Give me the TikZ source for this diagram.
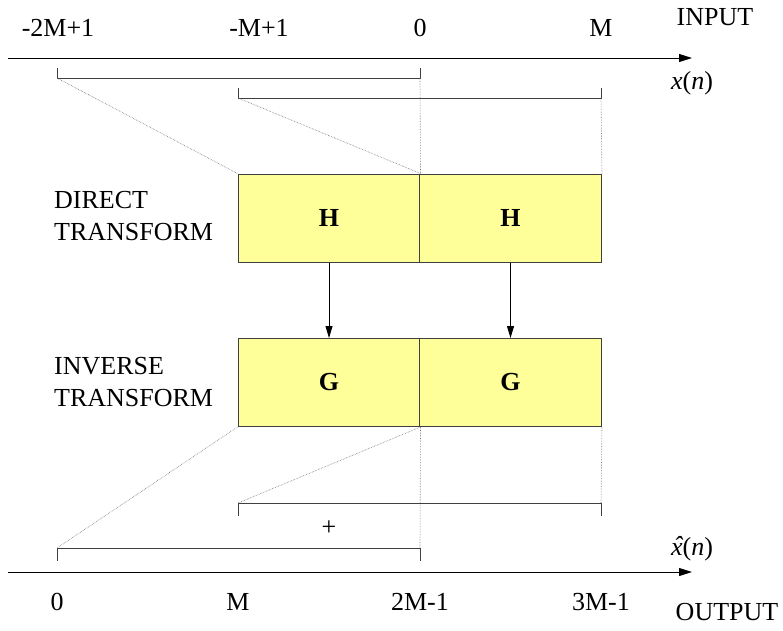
\documentclass[tikz,border=0pt]{standalone}
\usepackage{fontspec}
\setmainfont{Liberation Serif}
\usetikzlibrary{arrows.meta}
\definecolor{boxfill}{HTML}{FFFF99}
% italic x with a circumflex set over it
\newcommand{\hatx}{\textit{\setbox0\hbox{x}\rlap{x}\hbox to\wd0{\hss\kern0.08em\raisebox{0.02em}{\char"02C6}\hss}}}
\begin{document}
\begin{tikzpicture}[x=1pt,y=-1pt,
  lbl/.style={font=\fontsize{26}{32}\selectfont, inner sep=0pt},
  blk/.style={draw=black!75, fill=boxfill, line width=1pt,
    minimum width=182pt, minimum height=88pt, inner sep=0pt,
    font=\fontsize{26}{32}\selectfont\bfseries},
  axis/.style={line width=0.9pt, -{Triangle[length=13pt,width=8pt]}},
  brk/.style={line width=0.9pt, draw=black!75},
  guide/.style={densely dotted, draw=black!55, line width=0.6pt},
  flow/.style={line width=0.9pt, -{Triangle[length=12pt,width=7pt]}}
]
\useasboundingbox (0,0) rectangle (783,630);

% input axis and its labels
\coordinate (inL) at (8,58);
\coordinate (inR) at (692,58);
\draw[axis] (inL) -- (inR);
\node[lbl] (t1) at (58,28) {-2M+1};
\node[lbl] (t2) at (259,28) {-M+1};
\node[lbl] (t3) at (420,28) {0};
\node[lbl] (t4) at (601,28) {M};
\node[lbl] (tin) at (715,17) {INPUT};
\node[lbl, anchor=base] (xn) at (692,89) {\textit{x}(\textit{n})};

% input blocks
\coordinate (b1l) at (57,78);
\coordinate (b1r) at (420,78);
\coordinate (b2l) at (238,98);
\coordinate (b2r) at (601,98);
\draw[brk] (b1l) ++(0,-10) -- (b1l) -- (b1r) -- ++(0,-10);
\draw[brk] (b2l) ++(0,-10) -- (b2l) -- (b2r) -- ++(0,-10);

% transform blocks
\node[blk] (h1) at (329,218) {H};
\node[blk] (h2) at (510.5,218) {H};
\node[blk] (g1) at (329,382.5) {G};
\node[blk] (g2) at (510.5,382.5) {G};
\draw[flow] (h1.south) -- (g1.north);
\draw[flow] (h2.south) -- (g2.north);

\node[lbl, anchor=west, align=left] (dt) at (54,216.5) {DIRECT\\TRANSFORM};
\node[lbl, anchor=west, align=left] (it) at (54,382) {INVERSE\\TRANSFORM};

% output blocks
\coordinate (c1l) at (238,503);
\coordinate (c1r) at (601,503);
\coordinate (c2l) at (57,548);
\coordinate (c2r) at (420,548);
\draw[brk] (c1l) ++(0,13) -- (c1l) -- (c1r) -- ++(0,13);
\draw[brk] (c2l) ++(0,13) -- (c2l) -- (c2r) -- ++(0,13);
\node[lbl] (plus) at (329,528) {+};

% guide lines
\draw[guide] (b1l) -- (h1.north west);
\draw[guide] (b2l) -- (h1.north east);
\draw[guide] (b1r) -- (h1.north east);
\draw[guide] (b2r) -- (h2.north east);
\draw[guide] (g1.south west) -- (c2l);
\draw[guide] (g1.south east) -- (c1l);
\draw[guide] (g1.south east) -- (c2r);
\draw[guide] (g2.south east) -- (c1r);

% output axis and its labels
\coordinate (outL) at (8,572);
\coordinate (outR) at (692,572);
\draw[axis] (outL) -- (outR);
\node[lbl, anchor=base] (xh) at (692,555) {\hatx(\textit{n})};
\node[lbl] (o1) at (57,602) {0};
\node[lbl] (o2) at (238,602) {M};
\node[lbl] (o3) at (420,602) {2M-1};
\node[lbl] (o4) at (601,602) {3M-1};
\node[lbl] (tout) at (727,612) {OUTPUT};
\end{tikzpicture}
\end{document}
